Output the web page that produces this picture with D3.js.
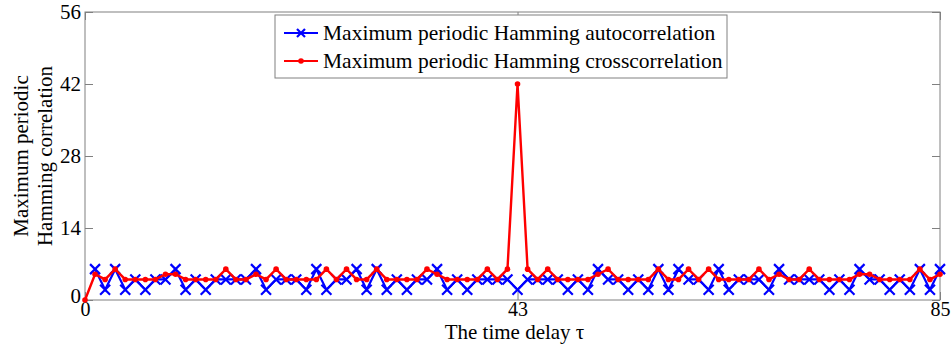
<!DOCTYPE html>
<html>
<head>
<meta charset="utf-8">
<script src="https://cdn.jsdelivr.net/npm/d3@7"></script>
<style>
  body { margin: 0; background: #fff; }
</style>
</head>
<body>
<div id="chart"></div>
<script>
// values, one per time delay 0..85 (no autocorrelation mark at 0)
const autoCorr = [null, 6, 2, 6, 2, 4, 2, 4, 4, 6, 2, 4, 2, 4, 4, 4, 4, 6, 2, 4, 4, 4, 2, 6, 2, 4, 4, 6, 2, 6,
  2, 4, 2, 4, 4, 6, 2, 4, 2, 4, 4, 4, 4, 2, 4, 4, 4, 4, 2, 4, 2, 6, 4, 4, 2, 4, 2, 6, 2, 6,
  4, 4, 2, 6, 2, 4, 4, 4, 2, 6, 4, 4, 4, 4, 2, 4, 2, 6, 4, 4, 2, 4, 2, 6, 2, 6];
const crossCorr = [0, 5, 4, 6, 4, 4, 4, 4, 5, 5, 4, 4, 4, 4, 6, 4, 4, 5, 4, 6, 4, 4, 4, 4, 6, 4, 6, 4, 4, 6,
  4, 4, 4, 4, 6, 5, 4, 4, 4, 4, 6, 4, 6, 42, 6, 4, 6, 4, 4, 4, 4, 5, 6, 4, 4, 4, 4, 6, 4, 4,
  6, 4, 6, 4, 4, 4, 4, 6, 4, 5, 4, 4, 6, 4, 4, 4, 4, 5, 5, 4, 4, 4, 4, 6, 4, 5];
const xTicks = [0, 43, 85];
const yTicks = [0, 14, 28, 42, 56];
const seriesNames = ['Maximum periodic Hamming autocorrelation', 'Maximum periodic Hamming crosscorrelation'];

const W = 952, H = 353;
const margin = { top: 12, right: 12, bottom: 53, left: 85 };
const width = W - margin.left - margin.right,
  height = H - margin.top - margin.bottom;

const svg = d3.select('#chart').append('svg')
  .attr('width', W)
  .attr('height', H);

const g = svg.append('g')
  .attr('transform', `translate(${margin.left},${margin.top})`);

const x = d3.scaleLinear().domain([0, 85]).range([0, width]);
const y = d3.scaleLinear().domain([0, 56]).range([height, 0]);

const axisColor = '#808080';

// box around plot
g.append('rect')
  .attr('width', width).attr('height', height)
  .attr('fill', 'none').attr('stroke', axisColor).attr('stroke-width', 1);

// axes, ticks pointing inward like matlab
const xAxis = g.append('g')
  .attr('transform', `translate(0,${height})`)
  .call(d3.axisBottom(x).tickValues(xTicks).tickSizeInner(-8).tickSizeOuter(0).tickPadding(2));
const xTop = g.append('g')
  .call(d3.axisTop(x).tickValues(xTicks).tickSizeInner(-8).tickSizeOuter(0).tickFormat(''));
const yAxis = g.append('g')
  .call(d3.axisLeft(y).tickValues(yTicks).tickSizeInner(-8).tickSizeOuter(0).tickPadding(4));
const yRight = g.append('g')
  .attr('transform', `translate(${width},0)`)
  .call(d3.axisRight(y).tickValues(yTicks).tickSizeInner(-8).tickSizeOuter(0).tickFormat(''));

[xAxis, xTop, yAxis, yRight].forEach(a => {
  a.select('.domain').remove();
  a.selectAll('line').attr('stroke', axisColor);
});
yAxis.selectAll('text').attr('dy', '0.32em');
yAxis.selectAll('.tick').filter(d => d === 0).select('text').attr('dy', '0.1em');

// axis labels
g.append('text')
  .attr('class', 'xlab')
  .attr('x', width / 2 + 2)
  .attr('y', height + 39)
  .attr('text-anchor', 'middle')
  .text('The time delay τ');

const yLab = svg.append('text')
  .attr('transform', `translate(40,${margin.top + height / 2}) rotate(-90)`)
  .attr('text-anchor', 'middle');
yLab.append('tspan').attr('x', 0).attr('dy', '-0.55em').text('Maximum periodic');
yLab.append('tspan').attr('x', 0).attr('dy', '1.1em').text('Hamming correlation');

// lines
const line = d3.line()
  .defined(d => d !== null)
  .x((d, i) => x(i))
  .y(d => y(d));

g.append('path')
  .datum(autoCorr)
  .attr('fill', 'none')
  .attr('stroke', '#0000ff')
  .attr('stroke-width', 2.2)
  .attr('d', line);

const cross = 5;
g.append('g')
  .selectAll('path')
  .data(autoCorr.map((v, i) => [i, v]).filter(p => p[1] !== null))
  .join('path')
  .attr('d', p => {
    const cx = x(p[0]), cy = y(p[1]);
    return `M${cx - cross},${cy - cross}L${cx + cross},${cy + cross}M${cx - cross},${cy + cross}L${cx + cross},${cy - cross}`;
  })
  .attr('stroke', '#0000ff')
  .attr('stroke-width', 2.2);

g.append('path')
  .datum(crossCorr)
  .attr('fill', 'none')
  .attr('stroke', '#ff0000')
  .attr('stroke-width', 2.4)
  .attr('d', line);

g.append('g')
  .selectAll('circle')
  .data(crossCorr)
  .join('circle')
  .attr('cx', (d, i) => x(i))
  .attr('cy', d => y(d))
  .attr('r', 2.8)
  .attr('fill', '#ff0000');

// legend
const legend = svg.append('g').attr('transform', 'translate(275,15)');
legend.append('rect')
  .attr('width', 452).attr('height', 63)
  .attr('fill', '#fff').attr('stroke', axisColor).attr('stroke-width', 1);

const colors = ['#0000ff', '#ff0000'];
seriesNames.forEach((name, k) => {
  const ly = 18 + k * 28;
  legend.append('line')
    .attr('x1', 9).attr('x2', 43).attr('y1', ly).attr('y2', ly)
    .attr('stroke', colors[k]).attr('stroke-width', 2.2);
  if (k === 0) {
    legend.append('path')
      .attr('d', `M22,${ly - 4}L30,${ly + 4}M22,${ly + 4}L30,${ly - 4}`)
      .attr('stroke', colors[k]).attr('stroke-width', 2.2);
  } else {
    legend.append('circle').attr('cx', 26).attr('cy', ly).attr('r', 2.8).attr('fill', colors[k]);
  }
  legend.append('text')
    .attr('class', 'leg')
    .attr('x', 48).attr('y', ly)
    .attr('dy', '0.33em')
    .text(name);
});

// serif font everywhere, like the matlab figure
svg.selectAll('text')
  .style('font-family', '"Liberation Serif"')
  .style('font-size', '21px')
  .style('fill', '#000');
svg.selectAll('text.leg').style('font-size', '21.5px');
xAxis.selectAll('text').style('font-size', '20px');
</script>
</body>
</html>
